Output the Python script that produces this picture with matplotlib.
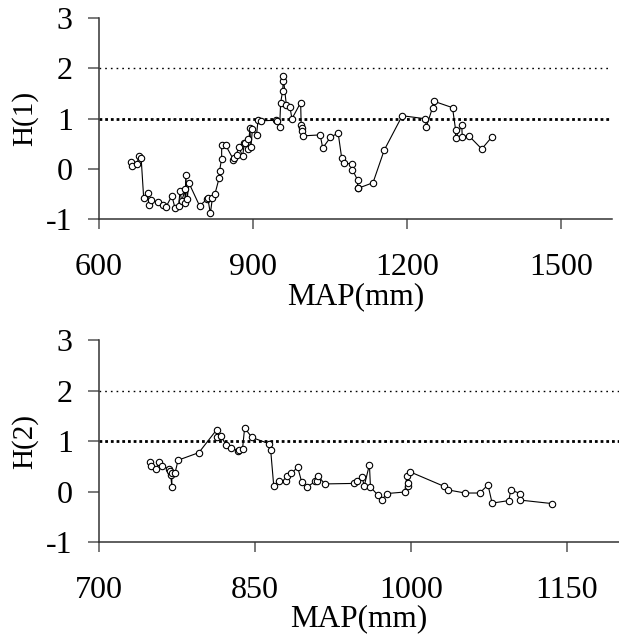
import matplotlib.pyplot as plt

plt.rcParams['font.family'] = ['Liberation Serif', 'DejaVu Serif']

# panel 1: MAP vs H(1)
map1 = [662, 664, 674, 678, 682, 687, 695, 697, 701, 715, 724, 730, 742, 748, 755, 758, 761,
        768, 768, 769, 772, 775, 796, 811, 812, 817, 821, 826, 834, 835, 839, 839, 847, 862,
        863, 868, 872, 880, 883, 885, 890, 891, 894, 896, 899, 907, 910, 916, 944, 946, 952,
        954, 958, 959, 959, 965, 972, 976, 993, 994, 995, 996, 998, 1031, 1036, 1051, 1066,
        1073, 1077, 1094, 1094, 1104, 1104, 1105, 1134, 1156, 1191, 1236, 1238, 1250, 1252,
        1289, 1295, 1295, 1307, 1308, 1321, 1346, 1365]
h1 = [0.15, 0.06, 0.11, 0.26, 0.23, -0.57, -0.47, -0.71, -0.62, -0.65, -0.71, -0.76, -0.53,
      -0.77, -0.73, -0.43, -0.64, -0.40, -0.68, -0.12, -0.59, -0.27, -0.73, -0.59, -0.58,
      -0.88, -0.57, -0.49, -0.18, -0.03, 0.21, 0.47, 0.47, 0.19, 0.22, 0.29, 0.44, 0.26,
      0.51, 0.52, 0.60, 0.40, 0.82, 0.43, 0.80, 0.68, 0.98, 0.96, 0.97, 0.96, 0.83, 1.32,
      1.56, 1.75, 1.84, 1.28, 1.24, 1.00, 1.32, 0.87, 0.81, 0.75, 0.66, 0.68, 0.42, 0.63,
      0.72, 0.22, 0.12, 0.10, -0.01, -0.22, -0.37, -0.38, -0.27, 0.38, 1.06, 1.00, 0.84,
      1.22, 1.35, 1.22, 0.78, 0.62, 0.87, 0.64, 0.66, 0.40, 0.63]

# panel 2: MAP vs H(2)
map2 = [749, 750, 755, 758, 761, 767, 768, 769, 770, 770, 773, 776, 796, 813, 813, 817, 822,
        827, 834, 835, 838, 840, 847, 863, 865, 868, 873, 880, 881, 885, 891, 895, 900, 908,
        910, 911, 917, 945, 948, 953, 955, 960, 961, 968, 972, 977, 994, 996, 997, 997, 999,
        1032, 1036, 1052, 1066, 1074, 1078, 1094, 1096, 1105, 1105, 1136]
h2 = [0.59, 0.50, 0.45, 0.59, 0.50, 0.45, 0.40, 0.32, 0.09, 0.36, 0.36, 0.62, 0.77, 1.22,
      1.08, 1.10, 0.93, 0.87, 0.80, 0.82, 0.85, 1.26, 1.07, 0.95, 0.83, 0.11, 0.20, 0.20,
      0.30, 0.36, 0.48, 0.18, 0.09, 0.20, 0.20, 0.30, 0.15, 0.16, 0.20, 0.28, 0.11, 0.53,
      0.09, -0.07, -0.16, -0.04, -0.01, 0.30, 0.11, 0.16, 0.39, 0.10, 0.03, -0.03, -0.03,
      0.13, -0.23, -0.18, 0.03, -0.04, -0.17, -0.24]

fig = plt.figure(figsize=(6.19, 6.39), dpi=100)
ax1 = fig.add_axes([0.16, 0.6565, 0.8288, 0.3153])
ax2 = fig.add_axes([0.16, 0.1518, 0.8400, 0.3161])

panels = [(ax1, map1, h1, 'H(1)', (600, 1600), [600, 900, 1200, 1500]),
          (ax2, map2, h2, 'H(2)', (700, 1200), [700, 850, 1000, 1150])]

for ax, x, y, lab, xl, xt in panels:
    ax.axhline(2, color='black', lw=1.0, ls=(0, (1.2, 2.9)), zorder=1)
    ax.axhline(1, color='black', lw=2.0, ls=(0, (1, 1.05)), zorder=1)
    ax.plot(x, y, '-o', color='black', lw=0.8, ms=4.6, mfc='white', mec='black',
            mew=0.8, zorder=3)
    ax.set_xlim(*xl)
    ax.set_ylim(-1, 3)
    ax.set_xticks(xt)
    ax.set_yticks([-1, 0, 1, 2, 3])
    ax.set_yticklabels(['-1', '0', '1', '2', '3'])
    for s in ['top', 'right']:
        ax.spines[s].set_visible(False)
    for s in ['left', 'bottom']:
        ax.spines[s].set_color('#333333')
        ax.spines[s].set_linewidth(1.1)
    ax.tick_params(axis='x', direction='out', length=7.2, width=1.1, color='#555555',
                   pad=17, labelsize=23)
    ax.tick_params(axis='y', direction='out', length=8, width=1.1, color='#555555',
                   pad=11, labelsize=23)
    ax.set_xlabel('MAP(mm)', fontsize=22.5, labelpad=0)
    ax.set_ylabel(lab, fontsize=21, labelpad=6)

fig.savefig('out.png', dpi=100)
